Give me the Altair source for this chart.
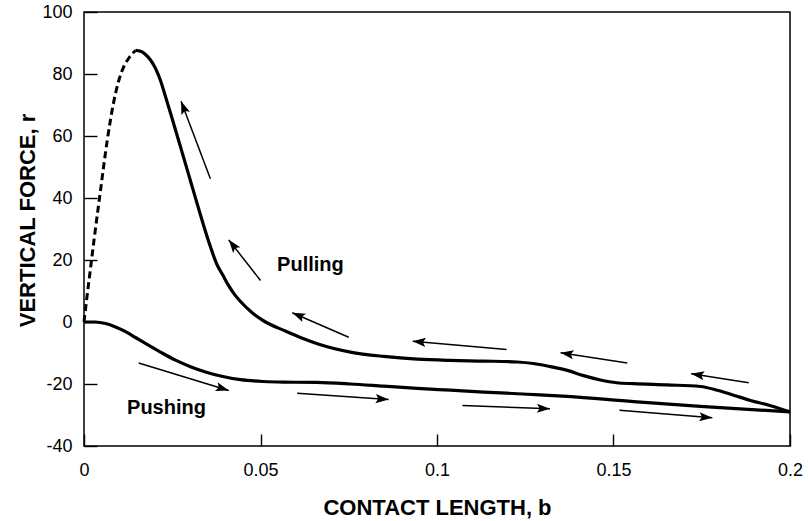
import math
import altair as alt
import pandas as pd

# ---------------- data ----------------
x_ticks = [0, 0.05, 0.1, 0.15, 0.2]
y_ticks = [-40, -20, 0, 20, 40, 60, 80, 100]

# pulling curve, dashed start
pull_dash_b = [0.0, 0.00071, 0.00156, 0.00297, 0.00467, 0.00657, 0.00844, 0.00986,
               0.01127, 0.01261, 0.01374, 0.01459]
pull_dash_r = [0.0, 6.9, 14.7, 27.6, 42.4, 58.5, 71.1, 77.9,
               82.4, 85.0, 86.6, 87.6]

# pulling curve, solid part
pull_b = [0.01459, 0.01601, 0.01742, 0.01884, 0.02025, 0.02167, 0.02309, 0.02450,
          0.02734, 0.03017, 0.03300, 0.03527, 0.03773, 0.03924, 0.04093, 0.04263,
          0.04433, 0.04773, 0.05142, 0.0566, 0.0613, 0.0661, 0.0755, 0.0849,
          0.0944, 0.1038, 0.1133, 0.1227, 0.1273, 0.1321, 0.1369, 0.1415, 0.1463,
          0.1509, 0.1557, 0.1652, 0.1746, 0.1794, 0.1840, 0.1888, 0.1945, 0.2]
pull_r = [87.6, 87.3, 86.3, 84.5, 81.8, 77.9, 72.7, 67.4,
          56.5, 45.5, 34.5, 26.1, 18.4, 15.3, 11.8, 8.9,
          6.6, 2.9, 0.0, -2.7, -5.0, -7.0, -9.7, -11.1,
          -12.0, -12.4, -12.6, -12.9, -13.4, -14.4, -15.6, -17.3, -18.7,
          -19.6, -19.9, -20.3, -20.8, -22.0, -23.6, -25.3, -27.0, -29.0]

# pushing curve
push_b = [0.0, 0.00326, 0.00609, 0.00892, 0.01176, 0.01459, 0.01799, 0.02167,
          0.02592, 0.03017, 0.03442, 0.03867, 0.04433, 0.05085, 0.05652, 0.0660,
          0.0755, 0.0849, 0.0944, 0.1038, 0.1133, 0.1256, 0.1369, 0.1557, 0.1746, 0.2]
push_r = [0.0, 0.0, -0.5, -1.6, -3.1, -5.0, -7.3, -9.7,
          -12.3, -14.4, -16.1, -17.4, -18.6, -19.2, -19.4, -19.5,
          -20.0, -20.7, -21.4, -22.0, -22.6, -23.3, -24.0, -25.7, -27.2, -29.0]

# direction arrows (tail -> head)
arrow_tail_b = [0.0358, 0.0500, 0.0750, 0.1197, 0.1539, 0.1883, 0.0155, 0.0604, 0.1072, 0.1517]
arrow_tail_r = [46.2, 13.4, -4.9, -8.9, -13.2, -19.6, -13.2, -23.0, -26.9, -28.5]
arrow_head_b = [0.0275, 0.0410, 0.0590, 0.0931, 0.1350, 0.1720, 0.0410, 0.0863, 0.1320, 0.1780]
arrow_head_r = [71.2, 26.5, 3.0, -6.2, -9.9, -16.7, -22.1, -25.0, -28.0, -30.9]

label_text = ["Pulling", "Pushing"]
label_b = [0.0547, 0.0122]
label_r = [16.4, -29.6]

# ---------------- layout ----------------
W, H = 706, 434
XMIN, XMAX = 0.0, 0.2
YMIN, YMAX = -40, 100
FONT = "Liberation Sans"
XTICK = 12   # inward tick length, x axis
YTICK = 13   # inward tick length, y axis

px_x = W / (XMAX - XMIN)
px_y = H / (YMAX - YMIN)

angles = []
for tb, tr, hb, hr in zip(arrow_tail_b, arrow_tail_r, arrow_head_b, arrow_head_r):
    dx = (hb - tb) * px_x
    up = (hr - tr) * px_y
    angles.append(math.degrees(math.atan2(dx, up)) % 360)

df_dash = pd.DataFrame({"b": pull_dash_b, "r": pull_dash_r})
df_pull = pd.DataFrame({"b": pull_b, "r": pull_r})
df_push = pd.DataFrame({"b": push_b, "r": push_r})
df_arrow = pd.DataFrame({"b": arrow_tail_b, "r": arrow_tail_r,
                         "b2": arrow_head_b, "r2": arrow_head_r, "ang": angles})
df_lab = pd.DataFrame({"t": label_text, "b": label_b, "r": label_r})

xs = alt.Scale(domain=[XMIN, XMAX], nice=False, zero=False)
ys = alt.Scale(domain=[YMIN, YMAX], nice=False, zero=False)

# axes shifted inward by the tick length so that ticks point into the plot
x_axis = alt.Axis(values=x_ticks, labelExpr="'' + datum.value", grid=False,
                  ticks=True, tickSize=XTICK, tickWidth=1.4, tickColor="black",
                  offset=-XTICK, domain=False, labelFontSize=18,
                  labelFont=FONT, labelColor="black", labelPadding=15,
                  title="CONTACT LENGTH, b", titleFont=FONT, titleFontSize=22,
                  titleFontWeight="bold", titleColor="black",
                  titleBaseline="alphabetic", titleY=68 + XTICK, labelFlush=False)
y_axis = alt.Axis(values=y_ticks, labelExpr="'' + datum.value", grid=False,
                  ticks=True, tickSize=YTICK, tickWidth=1.4, tickColor="black",
                  offset=-YTICK, domain=False, labelFontSize=18,
                  labelFont=FONT, labelColor="black", labelPadding=12,
                  title="VERTICAL FORCE, r", titleFont=FONT, titleFontSize=22,
                  titleFontWeight="bold", titleColor="black",
                  titleBaseline="middle", titleX=-57 - YTICK, titleY=208,
                  titleAngle=270, labelFlush=False)


def X(field="b"):
    return alt.X(f"{field}:Q", scale=xs, axis=x_axis)


def Y(field="r"):
    return alt.Y(f"{field}:Q", scale=ys, axis=y_axis)


dash_line = alt.Chart(df_dash).mark_line(
    color="black", strokeWidth=3, strokeDash=[7, 4], interpolate="monotone"
).encode(x=X(), y=Y())

pull_line = alt.Chart(df_pull).mark_line(
    color="black", strokeWidth=3.2, interpolate="monotone"
).encode(x=X(), y=Y())

push_line = alt.Chart(df_push).mark_line(
    color="black", strokeWidth=3.2, interpolate="monotone"
).encode(x=X(), y=Y())

shafts = alt.Chart(df_arrow).mark_rule(color="black", strokeWidth=1.5).encode(
    x=X(), y=Y(), x2="b2:Q", y2="r2:Q"
)

heads = alt.Chart(df_arrow).mark_point(
    shape="M0,0L-0.7,2L0,1.6L0.7,2Z", filled=True, fill="black",
    strokeWidth=0, size=169, opacity=1
).encode(x=X("b2"), y=Y("r2"), angle=alt.Angle("ang:Q", scale=None))

labels = alt.Chart(df_lab).mark_text(
    align="left", baseline="alphabetic", font=FONT, fontSize=20,
    fontWeight="bold", color="black"
).encode(x=X(), y=Y(), text="t:N")

chart = alt.layer(
    push_line, pull_line, dash_line, shafts, heads, labels
).properties(
    width=W, height=H,
    padding={"left": 84, "top": 12, "right": 18, "bottom": 75},
    autosize=alt.AutoSizeParams(type="none"),
    background="white",
).configure_view(stroke="black", strokeWidth=1.5)

chart.save("out.html", embed_options={"renderer": "svg", "actions": False})
